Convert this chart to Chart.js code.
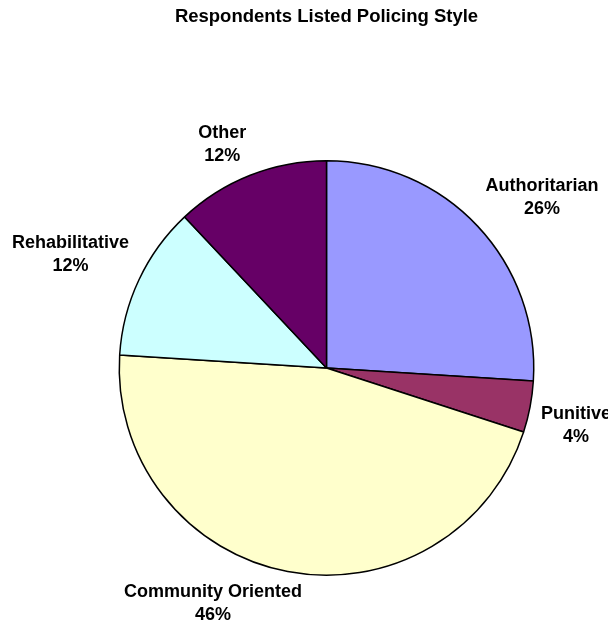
<!DOCTYPE html>
<html>
<head>
<meta charset="utf-8">
<script src="https://cdn.jsdelivr.net/npm/chart.js@4/dist/chart.umd.min.js"></script>
<style>
html,body{margin:0;padding:0;background:#fff;}
canvas{display:block;}
</style>
</head>
<body>
<canvas id="c" width="608" height="623"></canvas>
<script>
const chartTitle = "Respondents Listed Policing Style";
const categories = ["Authoritarian", "Punitive", "Community Oriented", "Rehabilitative", "Other"];
const values = [26, 4, 46, 12, 12];
const sliceColors = ["#9999FF", "#993366", "#FFFFCC", "#CCFFFF", "#660066"];

const FONT = '"Liberation Sans", Arial, Helvetica, sans-serif';

const labelPlugin = {
  id: 'outsideLabels',
  afterDatasetsDraw(chart) {
    const ctx = chart.ctx;
    const meta = chart.getDatasetMeta(0);
    const total = values.reduce((a, b) => a + b, 0);
    ctx.save();
    ctx.fillStyle = '#000';
    ctx.font = 'bold 18px ' + FONT;
    ctx.textAlign = 'center';
    ctx.textBaseline = 'middle';
    const lineH = 23, halfH = 21, gap = 11;
    meta.data.forEach((arc, i) => {
      const p = arc.getProps(['x', 'y', 'startAngle', 'endAngle', 'outerRadius'], true);
      const mid = (p.startAngle + p.endAngle) / 2;
      const c = Math.cos(mid), s = Math.sin(mid);
      const ax = p.x + (p.outerRadius + gap) * c;
      const ay = p.y + (p.outerRadius + gap) * s;
      const line1 = categories[i];
      const line2 = Math.round(values[i] / total * 100) + '%';
      const w = Math.max(ctx.measureText(line1).width, ctx.measureText(line2).width);
      const fx = Math.sign(c) * Math.min(1, Math.abs(c) / 0.23);
      const fy = Math.sign(s) * Math.min(1, Math.abs(s) / 0.23);
      const cx = ax + fx * w / 2;
      const cy = ay + fy * halfH;
      ctx.fillText(line1, cx, cy - lineH / 2);
      ctx.fillText(line2, cx, cy + lineH / 2);
    });
    // title
    ctx.font = 'bold 18.5px ' + FONT;
    ctx.textBaseline = 'alphabetic';
    ctx.fillText(chartTitle, 326.5, 22);
    ctx.restore();
  }
};

new Chart(document.getElementById('c'), {
  type: 'pie',
  data: {
    labels: categories,
    datasets: [{
      data: values,
      backgroundColor: sliceColors,
      borderColor: '#000',
      borderWidth: 1.5,
      borderAlign: 'center'
    }]
  },
  options: {
    responsive: false,
    animation: false,
    layout: { padding: { left: 118.5, right: 73.5, top: 160, bottom: 47 } },
    plugins: {
      legend: { display: false },
      title: { display: false },
      tooltip: { enabled: false }
    }
  },
  plugins: [labelPlugin]
});
</script>
</body>
</html>
